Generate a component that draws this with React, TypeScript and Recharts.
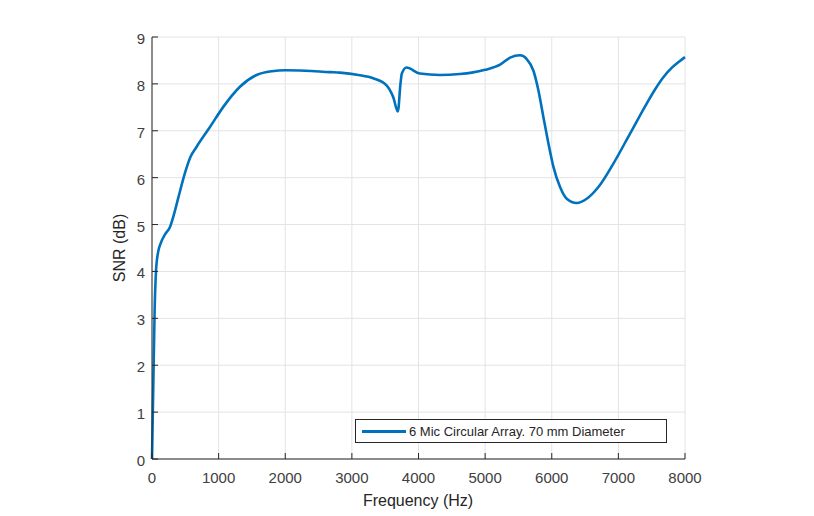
import React from "react";
import { LineChart, Line, XAxis, YAxis, CartesianGrid } from "recharts";

const freqHz = [0, 20, 40, 60, 90, 130, 200, 270, 320, 400, 495, 580, 670, 870, 1070, 1320, 1570, 1800, 2000, 2300, 2670, 2820, 3100, 3320, 3520, 3620, 3690, 3730, 3750, 3820, 4020, 4320, 4620, 4800, 5000, 5225, 5375, 5525, 5625, 5725, 5800, 5875, 5950, 6025, 6125, 6225, 6375, 6525, 6700, 6925, 7175, 7425, 7550, 7675, 7800, 7925, 8000];
const snrDb = [0, 1.6, 3.2, 4.0, 4.4, 4.6, 4.8, 4.95, 5.17, 5.6, 6.1, 6.45, 6.66, 7.08, 7.51, 7.94, 8.19, 8.27, 8.29, 8.28, 8.25, 8.24, 8.19, 8.12, 7.97, 7.72, 7.41, 8.01, 8.22, 8.35, 8.22, 8.19, 8.21, 8.24, 8.3, 8.41, 8.56, 8.61, 8.53, 8.28, 7.86, 7.29, 6.73, 6.23, 5.8, 5.55, 5.46, 5.55, 5.8, 6.3, 6.94, 7.58, 7.88, 8.14, 8.34, 8.49, 8.57];
const xTicks = [0, 1000, 2000, 3000, 4000, 5000, 6000, 7000, 8000];
const yTicks = [0, 1, 2, 3, 4, 5, 6, 7, 8, 9];
const seriesName = "6 Mic Circular Array. 70 mm Diameter";

const data = freqHz.map((f, i) => ({ f, snr: snrDb[i] }));

const AXIS = "#262626";
const FONT = "'Liberation Sans', Arial, Helvetica, sans-serif";

const BottomTick = (p: any) => (
  <g>
    <line x1={p.x} x2={p.x} y1={p.y} y2={p.y - 6} stroke={AXIS} strokeWidth={1} />
    <text x={p.x} y={p.y + 24} textAnchor="middle" fontSize={15} fill="#404040" fontFamily={FONT}>
      {p.payload.value}
    </text>
  </g>
);
const TopTick = (p: any) => (
  <line x1={p.x} x2={p.x} y1={p.y} y2={p.y + 6} stroke={AXIS} strokeWidth={1} />
);
const LeftTick = (p: any) => (
  <g>
    <line x1={p.x} x2={p.x + 6} y1={p.y} y2={p.y} stroke={AXIS} strokeWidth={1} />
    <text x={p.x - 7} y={p.y + 7} textAnchor="end" fontSize={15} fill="#404040" fontFamily={FONT}>
      {p.payload.value}
    </text>
  </g>
);
const RightTick = (p: any) => (
  <line x1={p.x} x2={p.x - 6} y1={p.y} y2={p.y} stroke={AXIS} strokeWidth={1} />
);

export default function App() {
  return (
    <div style={{ position: "absolute", left: 0, top: 0, width: 814, height: 516, background: "#fff" }}>
      <LineChart
        width={814}
        height={516}
        data={data}
        margin={{ top: 37, right: 129, bottom: 27, left: 112 }}
      >
        <CartesianGrid stroke="#e3e3e3" strokeWidth={1} />
        <XAxis
          dataKey="f"
          type="number"
          domain={[0, 8000]}
          ticks={xTicks}
          tickSize={0}
          tickMargin={0}
          height={30}
          axisLine={{ stroke: AXIS }}
          tickLine={false}
          tick={BottomTick}
          interval={0}
        />
        <XAxis
          xAxisId="top"
          orientation="top"
          dataKey="f"
          type="number"
          domain={[0, 8000]}
          ticks={xTicks}
          tickSize={0}
          tickMargin={0}
          height={0}
          axisLine={{ stroke: AXIS }}
          tickLine={false}
          tick={TopTick}
          interval={0}
        />
        <YAxis
          type="number"
          domain={[0, 9]}
          ticks={yTicks}
          tickSize={0}
          tickMargin={0}
          width={40}
          axisLine={{ stroke: AXIS }}
          tickLine={false}
          tick={LeftTick}
          interval={0}
        />
        <YAxis
          yAxisId="right"
          orientation="right"
          type="number"
          domain={[0, 9]}
          ticks={yTicks}
          tickSize={0}
          tickMargin={0}
          width={0}
          axisLine={{ stroke: AXIS }}
          tickLine={false}
          tick={RightTick}
          interval={0}
        />
        <Line
          type="monotone"
          dataKey="snr"
          name={seriesName}
          stroke="#0072BD"
          strokeWidth={2.6}
          dot={false}
          isAnimationActive={false}
        />
        <text x={418} y={506} textAnchor="middle" fontSize={16} fill="#262626" fontFamily={FONT}>
          Frequency (Hz)
        </text>
        <text
          x={125}
          y={248}
          textAnchor="middle"
          fontSize={16}
          fill="#262626"
          fontFamily={FONT}
          transform="rotate(-90 125 248)"
        >
          SNR (dB)
        </text>
      </LineChart>
      <div
        style={{
          position: "absolute",
          left: 355,
          top: 419,
          width: 312,
          height: 24,
          border: "1px solid #262626",
          background: "#fff",
          display: "flex",
          alignItems: "center",
          fontFamily: FONT,
          fontSize: 13,
          color: "#262626",
          boxSizing: "border-box",
        }}
      >
        <div style={{ width: 44, height: 3, background: "#0072BD", marginLeft: 6, marginRight: 3 }} />
        <span>{seriesName}</span>
      </div>
    </div>
  );
}
